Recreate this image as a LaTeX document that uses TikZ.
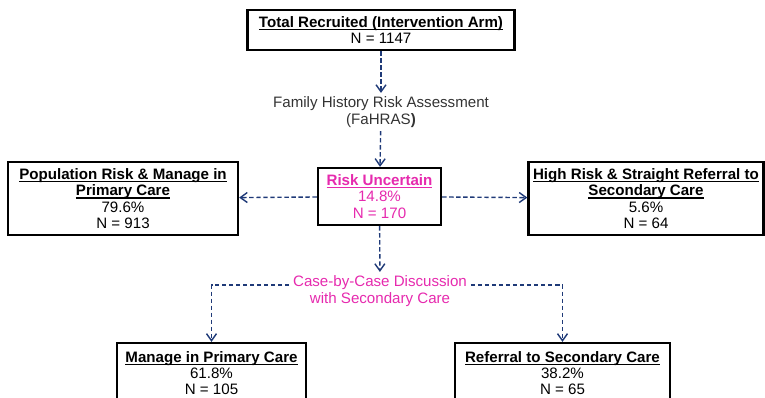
\documentclass[tikz,border=0pt]{standalone}
\usepackage{fontspec}
\setmainfont{Liberation Sans}
\usepackage{xcolor}
\usetikzlibrary{arrows.meta, positioning}
\definecolor{arrownavy}{HTML}{1F3A78}
\definecolor{uncertainpink}{HTML}{E62AAE}
\definecolor{notegray}{HTML}{333333}
% bold, underlined heading line
\newcommand{\headline}[1]{\setbox0\hbox{\textbf{#1}}\rlap{\rule[-1.6pt]{\wd0}{0.6pt}}\box0}

\begin{document}
\begin{tikzpicture}[
    x=0.02cm, y=-0.02cm,
    every node/.style={font=\fontsize{8.6}{9.3}\selectfont},
    outcome/.style={rectangle, draw=black, line width=1.3pt, fill=white,
                    align=center, inner sep=1pt},
    note/.style={align=center, inner sep=2pt},
    arrow/.style={-{Straight Barb[length=1.4mm, width=2mm]}, dash pattern=on 2.5pt off 1.5pt,
                  thick, arrownavy}
]
\useasboundingbox (0,0) rectangle (765,398);

% Top box
\node[outcome, minimum width=5.34cm, minimum height=0.8cm] at (381,30) (recruited)
    {\headline{Total Recruited (Intervention Arm)}\\N = 1147};

% Assessment
\node[note, notegray] at (381,112) (fahras)
    {Family History Risk Assessment\\(FaHRAS\textbf{)}};

% Risk groups
\node[outcome, minimum width=2.46cm, minimum height=1.14cm, text=uncertainpink] at (379.5,196.5) (uncertain)
    {\headline{Risk Uncertain}\\14.8\%\\N = 170};
\node[outcome, minimum width=4.6cm, minimum height=1.46cm] at (123,198.5) (population)
    {\headline{Population Risk \& Manage in}\\\headline{Primary Care}\\79.6\%\\N = 913};
\node[outcome, minimum width=4.7cm, minimum height=1.46cm] at (646,198.5) (highrisk)
    {\headline{High Risk \& Straight Referral to}\\\headline{Secondary Care}\\5.6\%\\N = 64};

% Discussion
\node[note, uncertainpink] at (380,291) (discussion)
    {Case-by-Case Discussion\\with Secondary Care};

% Final outcomes
\node[outcome, minimum width=3.78cm, minimum height=1.2cm] at (211.5,373) (primary)
    {\headline{Manage in Primary Care}\\61.8\%\\N = 105};
\node[outcome, minimum width=4.3cm, minimum height=1.2cm] at (562.5,373) (secondary)
    {\headline{Referral to Secondary Care}\\38.2\%\\N = 65};

% Arrows
\draw[arrow] (recruited) -- (fahras);
\draw[arrow] (fahras) -- (uncertain);
\draw[arrow] (uncertain) -- (population);
\draw[arrow] (uncertain) -- (highrisk);
\draw[arrow] (uncertain) -- (discussion);
\draw[arrow] ([yshift=0.12cm]discussion.west) -| (primary.north);
\draw[arrow] ([yshift=0.12cm]discussion.east) -| (secondary.north);

\end{tikzpicture}
\end{document}
